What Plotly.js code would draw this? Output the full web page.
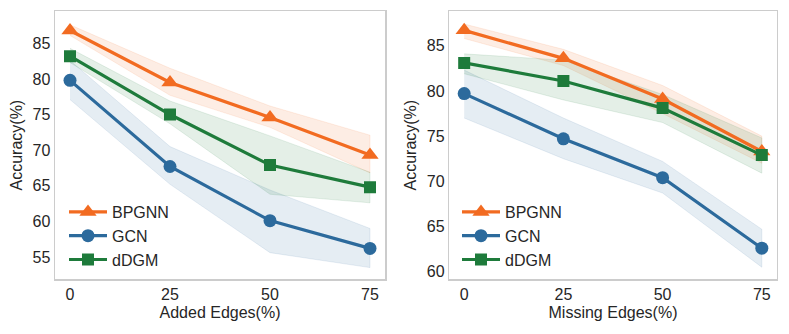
<!DOCTYPE html>
<html>
<head>
<meta charset="utf-8">
<script src="https://cdn.plot.ly/plotly-3.0.1.min.js"></script>
<style>html,body{margin:0;padding:0;background:#fff;}#chart{width:789px;height:334px;}</style>
</head>
<body>
<div id="chart"></div>
<script>
// ---------- data ----------
const xVals = [0, 25, 50, 75];
const seriesNames = ["BPGNN", "GCN", "dDGM"];

// Left panel: Added Edges(%)
const addBPGNN = [86.8, 79.5, 74.6, 69.3];
const addBPGNNUpper = [87.6, 81.5, 76.2, 72.1];
const addBPGNNLower = [86.1, 77.7, 73.2, 66.8];
const addGCN = [79.8, 67.7, 60.1, 56.2];
const addGCNUpper = [82.6, 70.5, 64.4, 59.0];
const addGCNLower = [77.1, 65.2, 55.6, 53.5];
const addDDGM = [83.2, 75.0, 67.9, 64.8];
const addDDGMUpper = [84.3, 76.9, 72.0, 66.9];
const addDDGMLower = [82.3, 73.7, 63.8, 62.6];

// Right panel: Missing Edges(%)
const missBPGNN = [86.7, 83.6, 79.1, 73.3];
const missBPGNNUpper = [87.4, 84.6, 80.6, 75.0];
const missBPGNNLower = [85.8, 82.8, 77.5, 72.0];
const missGCN = [79.7, 74.7, 70.4, 62.6];
const missGCNUpper = [82.3, 77.0, 72.2, 64.7];
const missGCNLower = [77.0, 72.5, 68.7, 60.5];
const missDDGM = [83.1, 81.1, 78.1, 72.9];
const missDDGMUpper = [84.1, 83.4, 79.6, 74.8];
const missDDGMLower = [81.9, 79.0, 76.5, 70.9];

const xTickVals = [0, 25, 50, 75];
const leftYTicks = [55, 60, 65, 70, 75, 80, 85];
const rightYTicks = [60, 65, 70, 75, 80, 85];

// ---------- style ----------
const colors = {BPGNN: "#f26b21", GCN: "#2c6a9c", dDGM: "#1e7b3b"};
const fills = {BPGNN: "rgba(242,107,33,0.12)", GCN: "rgba(44,106,156,0.12)", dDGM: "rgba(30,123,59,0.12)"};
const symbols = {BPGNN: "triangle-up", GCN: "circle", dDGM: "square"};
const msize = {BPGNN: 15, GCN: 13, dDGM: 12};
const FONT = "Liberation Sans, Arial, sans-serif";
const TXT = "#262626";
const FS = 16;

function band(xa, ya, upper, lower, name) {
  return {
    x: xVals.concat(xVals.slice().reverse()),
    y: upper.concat(lower.slice().reverse()),
    xaxis: xa, yaxis: ya,
    fill: "toself", fillcolor: fills[name],
    line: {width: 0.6, color: fills[name].replace("0.12", "0.18")},
    mode: "lines", hoverinfo: "skip", showlegend: false
  };
}
function line(xa, ya, vals, name, legend) {
  return {
    x: xVals, y: vals, xaxis: xa, yaxis: ya, name: name,
    mode: "lines+markers",
    line: {color: colors[name], width: 3.2},
    marker: {symbol: symbols[name], size: msize[name], color: colors[name], line: {width: 0}},
    legend: legend
  };
}

const traces = [
  band("x", "y", addBPGNNUpper, addBPGNNLower, "BPGNN"),
  band("x", "y", addGCNUpper, addGCNLower, "GCN"),
  band("x", "y", addDDGMUpper, addDDGMLower, "dDGM"),
  band("x2", "y2", missBPGNNUpper, missBPGNNLower, "BPGNN"),
  band("x2", "y2", missGCNUpper, missGCNLower, "GCN"),
  band("x2", "y2", missDDGMUpper, missDDGMLower, "dDGM"),
  line("x", "y", addBPGNN, "BPGNN", "legend"),
  line("x", "y", addGCN, "GCN", "legend"),
  line("x", "y", addDDGM, "dDGM", "legend"),
  line("x2", "y2", missBPGNN, "BPGNN", "legend2"),
  line("x2", "y2", missGCN, "GCN", "legend2"),
  line("x2", "y2", missDDGM, "dDGM", "legend2")
];

const axisCommon = {
  showgrid: false, zeroline: false, ticks: "",
  showline: true, mirror: true, linecolor: "#cccccc", linewidth: 1.5,
  tickfont: {family: FONT, size: FS, color: TXT}
};
const yDom = [1 - 279.3 / 334, 1 - 11 / 334];

const legendCommon = {
  font: {family: FONT, size: FS, color: TXT},
  bgcolor: "rgba(0,0,0,0)", borderwidth: 0,
  xanchor: "left", yanchor: "top", itemwidth: 38, tracegroupgap: 0
};

const layout = {
  width: 789, height: 334,
  margin: {l: 0, r: 0, t: 0, b: 0},
  paper_bgcolor: "#ffffff", plot_bgcolor: "#ffffff",
  font: {family: FONT, color: TXT},
  xaxis: Object.assign({}, axisCommon, {
    domain: [55 / 789, 385 / 789], range: [-3.75, 78.75],
    tickvals: xTickVals, ticktext: xTickVals.map(String),
    title: {text: "Added Edges(%)", font: {family: FONT, size: FS, color: TXT}, standoff: 5},
    anchor: "y"
  }),
  yaxis: Object.assign({}, axisCommon, {
    domain: yDom, range: [51.86, 89.54],
    tickvals: leftYTicks, ticktext: leftYTicks.map(String),
    title: {text: "Accuracy(%)", font: {family: FONT, size: FS, color: TXT}, standoff: 6},
    anchor: "x"
  }),
  xaxis2: Object.assign({}, axisCommon, {
    domain: [449.3 / 789, 776.7 / 789], range: [-3.75, 78.75],
    tickvals: xTickVals, ticktext: xTickVals.map(String),
    title: {text: "Missing Edges(%)", font: {family: FONT, size: FS, color: TXT}, standoff: 5},
    anchor: "y2"
  }),
  yaxis2: Object.assign({}, axisCommon, {
    domain: yDom, range: [59.16, 88.84],
    tickvals: rightYTicks, ticktext: rightYTicks.map(String),
    title: {text: "Accuracy(%)", font: {family: FONT, size: FS, color: TXT}, standoff: 6},
    anchor: "x2"
  }),
  legend: Object.assign({}, legendCommon, {x: 64 / 789, y: 1 - 195 / 334}),
  legend2: Object.assign({}, legendCommon, {x: 457 / 789, y: 1 - 195 / 334}),
  showlegend: true
};

Plotly.newPlot("chart", traces, layout, {displayModeBar: false, staticPlot: true});
</script>
</body>
</html>
